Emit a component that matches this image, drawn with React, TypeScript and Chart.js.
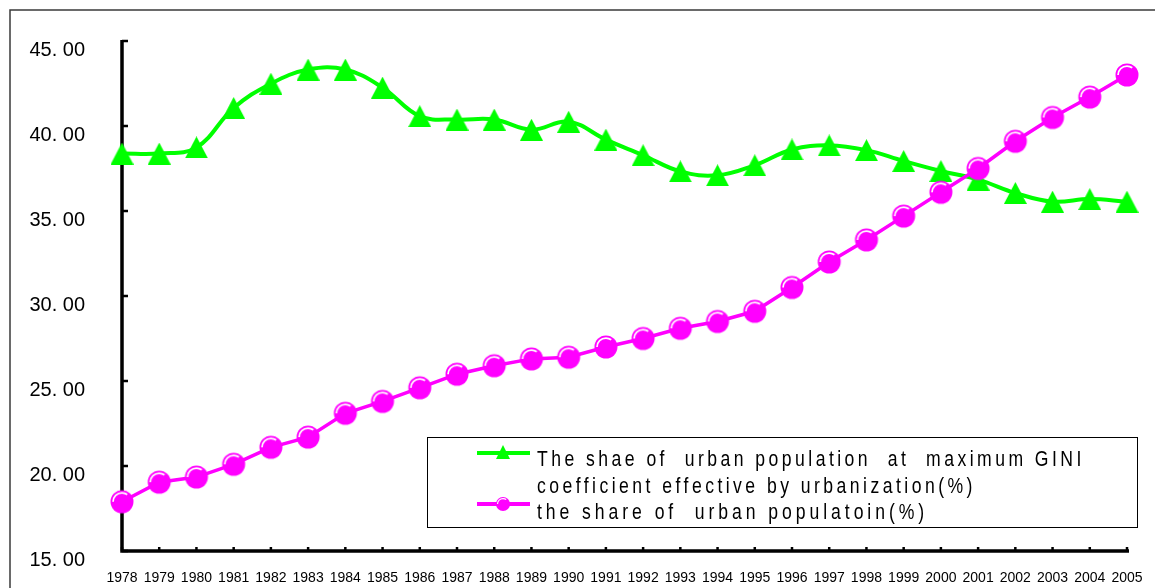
import React, { useEffect, useRef } from "react";
import { Chart, registerables } from "chart.js";

Chart.register(...registerables);

const years = [
  "1978", "1979", "1980", "1981", "1982", "1983", "1984", "1985", "1986", "1987",
  "1988", "1989", "1990", "1991", "1992", "1993", "1994", "1995", "1996", "1997",
  "1998", "1999", "2000", "2001", "2002", "2003", "2004", "2005",
];

const giniShare = [
  38.38, 38.38, 38.74, 41.06, 42.49, 43.32, 43.32, 42.26, 40.58, 40.38,
  40.38, 39.78, 40.25, 39.2, 38.28, 37.33, 37.1, 37.69, 38.62, 38.86,
  38.58, 37.94, 37.35, 36.85, 36.06, 35.55, 35.7, 35.55,
];

const urbanShare = [
  17.9, 19.05, 19.35, 20.1, 21.1, 21.7, 23.1, 23.8, 24.6, 25.4,
  25.9, 26.3, 26.4, 27.0, 27.5, 28.1, 28.5, 29.1, 30.5, 32.0,
  33.3, 34.7, 36.1, 37.5, 39.1, 40.5, 41.7, 43.0,
];

const yMin = 15;
const yMax = 45;
const yStep = 5;

const legendLines = [
  "The shae of  urban population  at  maximum GINI",
  "coefficient effective by urbanization(%)",
  "the share of  urban populatoin(%)",
];

const GREEN = "#00FF00";
const MAGENTA = "#FF00FF";

function makeTriangle(w: number, h: number): HTMLCanvasElement {
  const c = document.createElement("canvas");
  c.width = w;
  c.height = h;
  const g = c.getContext("2d")!;
  g.fillStyle = GREEN;
  g.beginPath();
  g.moveTo(w / 2, 0);
  g.lineTo(w, h);
  g.lineTo(0, h);
  g.closePath();
  g.fill();
  return c;
}

function drawBall(g: CanvasRenderingContext2D, cx: number, cy: number, r: number) {
  g.fillStyle = MAGENTA;
  g.beginPath();
  g.arc(cx, cy, r, 0, Math.PI * 2);
  g.fill();
  g.strokeStyle = "#ffffff";
  g.lineWidth = Math.max(1.2, r * 0.15);
  g.beginPath();
  g.arc(cx, cy, r * 0.78, Math.PI * 1.0, Math.PI * 1.7);
  g.stroke();
}

function makeBall(size: number, r: number): HTMLCanvasElement {
  const c = document.createElement("canvas");
  c.width = size;
  c.height = size;
  const g = c.getContext("2d")!;
  drawBall(g, size / 2, size / 2, r);
  return c;
}

const framePlugin = {
  id: "frame",
  beforeDraw(chart: any) {
    const ctx = chart.ctx as CanvasRenderingContext2D;
    ctx.save();
    ctx.strokeStyle = "#3a3a3a";
    ctx.lineWidth = 1.5;
    ctx.beginPath();
    ctx.moveTo(10, chart.height);
    ctx.lineTo(10, 10);
    ctx.lineTo(chart.width, 10);
    ctx.stroke();
    ctx.restore();
  },
};

const axesPlugin = {
  id: "customAxes",
  beforeDatasetsDraw(chart: any) {
    const ctx = chart.ctx as CanvasRenderingContext2D;
    const { left, right, top, bottom } = chart.chartArea;
    const xs = chart.scales.x;
    const ys = chart.scales.y;
    ctx.save();
    ctx.strokeStyle = "#000";
    ctx.lineCap = "butt";
    ctx.lineWidth = 3.5;
    ctx.beginPath();
    ctx.moveTo(left, top - 1);
    ctx.lineTo(left, bottom);
    ctx.lineTo(right + 2, bottom);
    ctx.stroke();
    ctx.lineWidth = 2.5;
    ctx.beginPath();
    for (let v = yMin; v <= yMax; v += yStep) {
      const py = ys.getPixelForValue(v);
      ctx.moveTo(left, py);
      ctx.lineTo(left + 6, py);
    }
    for (let i = 0; i < years.length; i++) {
      const px = xs.getPixelForValue(i);
      ctx.moveTo(px, bottom);
      ctx.lineTo(px, bottom - 4);
    }
    ctx.stroke();
    ctx.restore();
  },
};

const legendPlugin = {
  id: "customLegend",
  afterDraw(chart: any) {
    const ctx = chart.ctx as CanvasRenderingContext2D;
    const bx = 427.5, by = 437.5, bw = 710, bh = 90;
    ctx.save();
    ctx.fillStyle = "#fff";
    ctx.fillRect(bx, by, bw, bh);
    ctx.strokeStyle = "#000";
    ctx.lineWidth = 1;
    ctx.strokeRect(bx, by, bw, bh);

    // green sample
    ctx.strokeStyle = GREEN;
    ctx.lineWidth = 4;
    ctx.beginPath();
    ctx.moveTo(477, 453);
    ctx.lineTo(530, 453);
    ctx.stroke();
    ctx.fillStyle = GREEN;
    ctx.beginPath();
    ctx.moveTo(503, 445);
    ctx.lineTo(510, 459);
    ctx.lineTo(496, 459);
    ctx.closePath();
    ctx.fill();

    // magenta sample
    ctx.strokeStyle = MAGENTA;
    ctx.lineWidth = 4;
    ctx.beginPath();
    ctx.moveTo(477, 504);
    ctx.lineTo(530, 504);
    ctx.stroke();
    drawBall(ctx, 503, 504, 7);

    const targets = [1085, 976, 928];
    const baselines = [466, 493, 519];
    const tx = 537;
    const squeeze = 0.8;
    ctx.fillStyle = "#000";
    ctx.textBaseline = "alphabetic";
    ctx.textAlign = "left";
    ctx.font = '22px "Liberation Sans", Arial, sans-serif';
    legendLines.forEach((t, i) => {
      ctx.save();
      ctx.translate(tx, baselines[i]);
      ctx.scale(squeeze, 1);
      (ctx as any).letterSpacing = "0px";
      const w = ctx.measureText(t).width;
      const ls = ((targets[i] - tx) / squeeze - w) / t.length;
      (ctx as any).letterSpacing = ls.toFixed(2) + "px";
      ctx.fillText(t, 0, 0);
      ctx.restore();
    });
    ctx.restore();
  },
};

export default function App() {
  const ref = useRef<HTMLCanvasElement | null>(null);

  useEffect(() => {
    if (!ref.current) return;
    const tri = makeTriangle(23, 22);
    const ball = makeBall(26, 11.5);
    const chart = new Chart(ref.current, {
      type: "line",
      data: {
        labels: years,
        datasets: [
          {
            label: legendLines[0] + " " + legendLines[1],
            data: giniShare,
            borderColor: GREEN,
            backgroundColor: GREEN,
            borderWidth: 4,
            tension: 0.4,
            pointStyle: tri as any,
            pointRadius: 11,
            clip: false as any,
            order: 2,
          },
          {
            label: legendLines[2],
            data: urbanShare,
            borderColor: MAGENTA,
            backgroundColor: MAGENTA,
            borderWidth: 3.5,
            tension: 0,
            pointStyle: ball as any,
            pointRadius: 11,
            clip: false as any,
            order: 1,
          },
        ],
      },
      options: {
        animation: false,
        responsive: false,
        devicePixelRatio: 1,
        layout: { padding: { left: 0, top: 41, right: 28, bottom: 0 } },
        plugins: {
          legend: { display: false },
          tooltip: { enabled: false },
          title: { display: false },
        },
        scales: {
          x: {
            type: "category",
            offset: false,
            grid: { display: false },
            border: { display: false },
            ticks: {
              autoSkip: false,
              maxRotation: 0,
              minRotation: 0,
              color: "#000",
              padding: 11,
              font: { family: '"Liberation Sans", Arial, sans-serif', size: 14 },
            },
            afterFit: (s: any) => {
              s.height = 37;
              s.paddingLeft = 0;
              s.paddingRight = 0;
            },
          },
          y: {
            min: yMin,
            max: yMax,
            grid: { display: false },
            border: { display: false },
            ticks: {
              stepSize: yStep,
              color: "#000",
              padding: 29,
              labelOffset: 9,
              font: { family: '"Liberation Sans", Arial, sans-serif', size: 20 },
              callback: (v: any) => {
                const s = Number(v).toFixed(2).split(".");
                return s[0] + ". " + s[1];
              },
            },
            afterFit: (s: any) => {
              s.width = 122;
              s.paddingTop = 0;
              s.paddingBottom = 0;
            },
          },
        },
      },
      plugins: [framePlugin, axesPlugin, legendPlugin],
    });
    return () => chart.destroy();
  }, []);

  return (
    <div style={{ position: "fixed", left: 0, top: 0, width: 1155, height: 588, background: "#fff" }}>
      <canvas ref={ref} width={1155} height={588} style={{ display: "block", width: 1155, height: 588 }} />
    </div>
  );
}
